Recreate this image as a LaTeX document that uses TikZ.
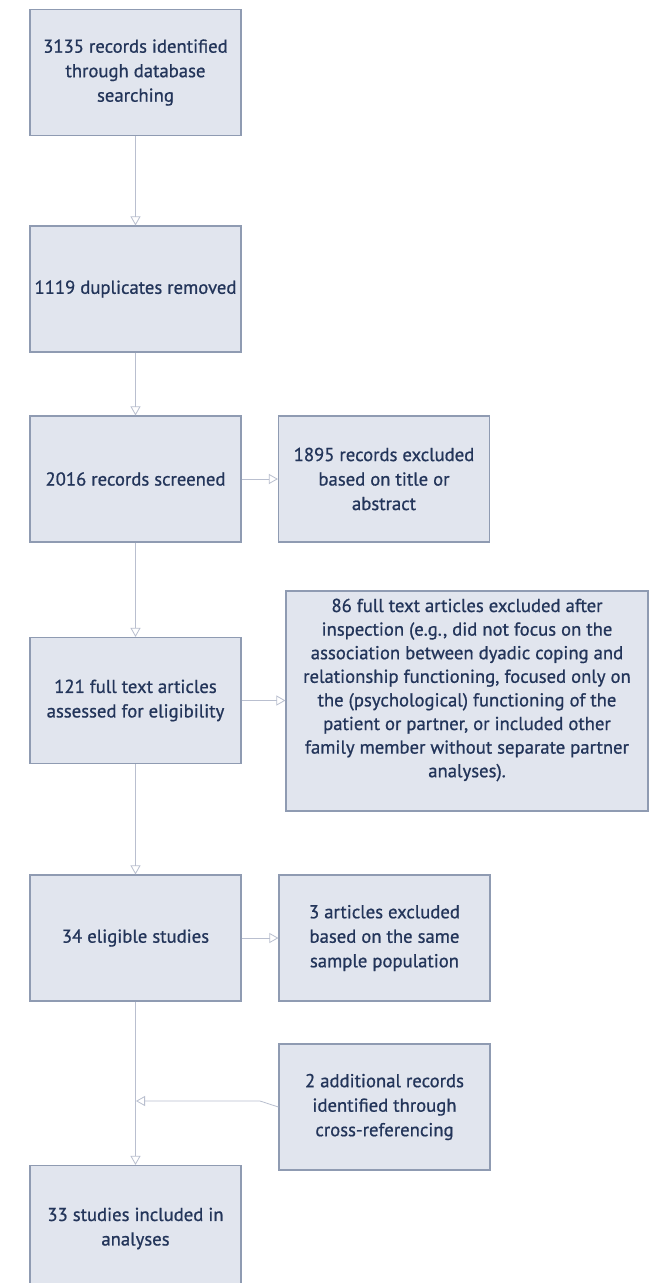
\documentclass[tikz,border=0pt]{standalone}
\usepackage{fontspec}
\setmainfont{PT Sans}
\newfontfamily\flowfont[FakeBold=0.8]{PT Sans}
\usetikzlibrary{arrows.meta}
\definecolor{boxfill}{HTML}{E1E5EE}
\definecolor{boxdraw}{HTML}{8F9BB2}
\definecolor{txtcol}{HTML}{23355A}
\definecolor{linecol}{HTML}{B9BFCF}
\tikzset{
  flowbox/.style={draw=boxdraw, fill=boxfill, line width=1.2pt, rectangle,
    minimum width=211pt, minimum height=126pt, inner sep=0pt,
    align=center, text=txtcol, font=\flowfont\fontsize{18.7}{24.5}\selectfont},
  flowtxt/.style={align=center, text=txtcol, inner sep=0pt,
    font=\flowfont\fontsize{18.7}{23.6}\selectfont},
  flowarrow/.style={draw=linecol, line width=0.8pt,
    -{Triangle[open, length=9pt, width=10pt]}},
  flowline/.style={draw=linecol, line width=0.8pt}
}
\begin{document}
\begin{tikzpicture}[x=1pt,y=-1pt]
\clip (0,0) rectangle (649,1283);
\fill[white] (0,0) rectangle (649,1283);
\node[flowbox] (b1) at (135.5,72.5) {3135 records identified\\through database\\searching};
\node[flowbox] (b2) at (135.5,289) {1119 duplicates removed};
\node[flowbox] (b3) at (135.5,479) {2016 records screened};
\node[flowbox] (b3x) at (384,479) {1895 records excluded\\based on title or\\abstract};
\node[flowbox] (b4) at (135.5,700.5) {121 full text articles\\assessed for eligibility};
\node[flowbox, minimum width=362pt, minimum height=220pt] (b4x) at (467,701) {};
\node[flowtxt] (t4x) at (467,690) {86 full text articles excluded after\\inspection (e.g., did not focus on the\\association between dyadic coping and\\relationship functioning, focused only on\\the (psychological) functioning of the\\patient or partner, or included other\\family member without separate partner\\analyses).};
\node[flowbox] (b5) at (135.5,938) {34 eligible studies};
\node[flowbox] (b5x) at (384.5,938) {3 articles excluded\\based on the same\\sample population};
\node[flowbox] (badd) at (384.5,1107) {2 additional records\\identified through\\cross-referencing};
\node[flowbox] (b6) at (135.5,1228.5) {33 studies included in\\analyses};
\coordinate (merge) at (136,1101);
\coordinate (bend) at (260,1101);
\draw[flowarrow] (b1) -- (b2);
\draw[flowarrow] (b2) -- (b3);
\draw[flowarrow] (b3) -- (b3x);
\draw[flowarrow] (b3) -- (b4);
\draw[flowarrow] (b4) -- (b4x.west |- b4);
\draw[flowarrow] (b4) -- (b5);
\draw[flowarrow] (b5) -- (b5x);
\draw[flowarrow] (b5) -- (b6);
\draw[flowarrow] (badd.west) -- (bend) -- (merge);
\end{tikzpicture}
\end{document}
